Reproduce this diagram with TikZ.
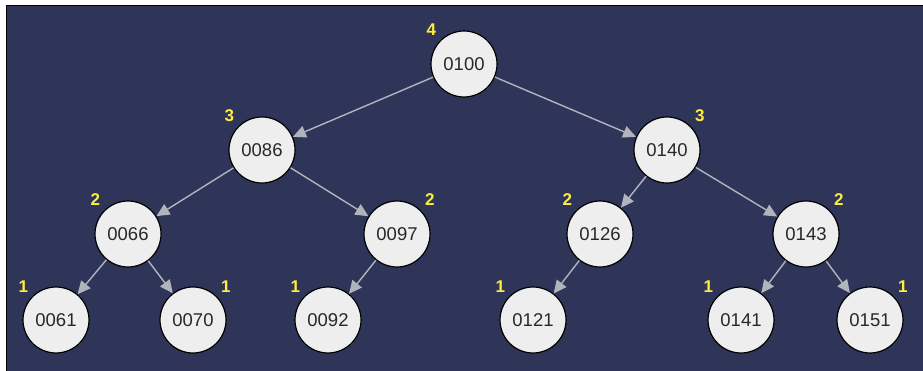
\documentclass[tikz,border=0pt]{standalone}
\usepackage{fontspec}
\setmainfont{Liberation Sans}
\usetikzlibrary{arrows.meta}
\definecolor{navy}{RGB}{46,53,89}
\definecolor{keyfill}{RGB}{238,238,238}
\definecolor{keytext}{RGB}{40,40,40}
\definecolor{edgegray}{RGB}{178,180,188}
\definecolor{hgt}{RGB}{255,236,60}
\tikzset{
  key/.style={shape=circle,draw=black,line width=1.2pt,fill=keyfill,minimum size=66pt,inner sep=0pt,text=keytext,font=\fontsize{18.5}{18.5}\selectfont},
  hlabel/.style={text=hgt,font=\fontsize{17}{17}\selectfont\bfseries,label distance=1pt},
  link/.style={draw=edgegray,line width=1.4pt,-{Triangle[length=13pt,width=12pt]}}
}
\begin{document}
\begin{tikzpicture}[x=1pt,y=-1pt]
\useasboundingbox (0,0) rectangle (923,371);
\fill[white] (0,0) rectangle (923,371);
\filldraw[fill=navy,draw=black,line width=1pt] (6,6) rectangle (925,373);

\node[key,label={[hlabel]above left:4}] (n100) at (464,64) {0100};
\node[key,label={[hlabel]above left:3}] (n086) at (262,150) {0086};
\node[key,label={[hlabel]above right:3}] (n140) at (667,150) {0140};
\node[key,label={[hlabel]above left:2}] (n066) at (128,234) {0066};
\node[key,label={[hlabel]above right:2}] (n097) at (397,234) {0097};
\node[key,label={[hlabel]above left:2}] (n126) at (600,234) {0126};
\node[key,label={[hlabel]above right:2}] (n143) at (806,234) {0143};
\node[key,label={[hlabel]above left:1}] (n061) at (56,320) {0061};
\node[key,label={[hlabel]above right:1}] (n070) at (193,320) {0070};
\node[key,label={[hlabel]above left:1}] (n092) at (328,320) {0092};
\node[key,label={[hlabel]above left:1}] (n121) at (533,320) {0121};
\node[key,label={[hlabel]above left:1}] (n141) at (741,320) {0141};
\node[key,label={[hlabel]above right:1}] (n151) at (870,320) {0151};

\draw[link] (n100) -- (n086);
\draw[link] (n100) -- (n140);
\draw[link] (n086) -- (n066);
\draw[link] (n086) -- (n097);
\draw[link] (n140) -- (n126);
\draw[link] (n140) -- (n143);
\draw[link] (n066) -- (n061);
\draw[link] (n066) -- (n070);
\draw[link] (n097) -- (n092);
\draw[link] (n126) -- (n121);
\draw[link] (n143) -- (n141);
\draw[link] (n143) -- (n151);
\end{tikzpicture}
\end{document}
